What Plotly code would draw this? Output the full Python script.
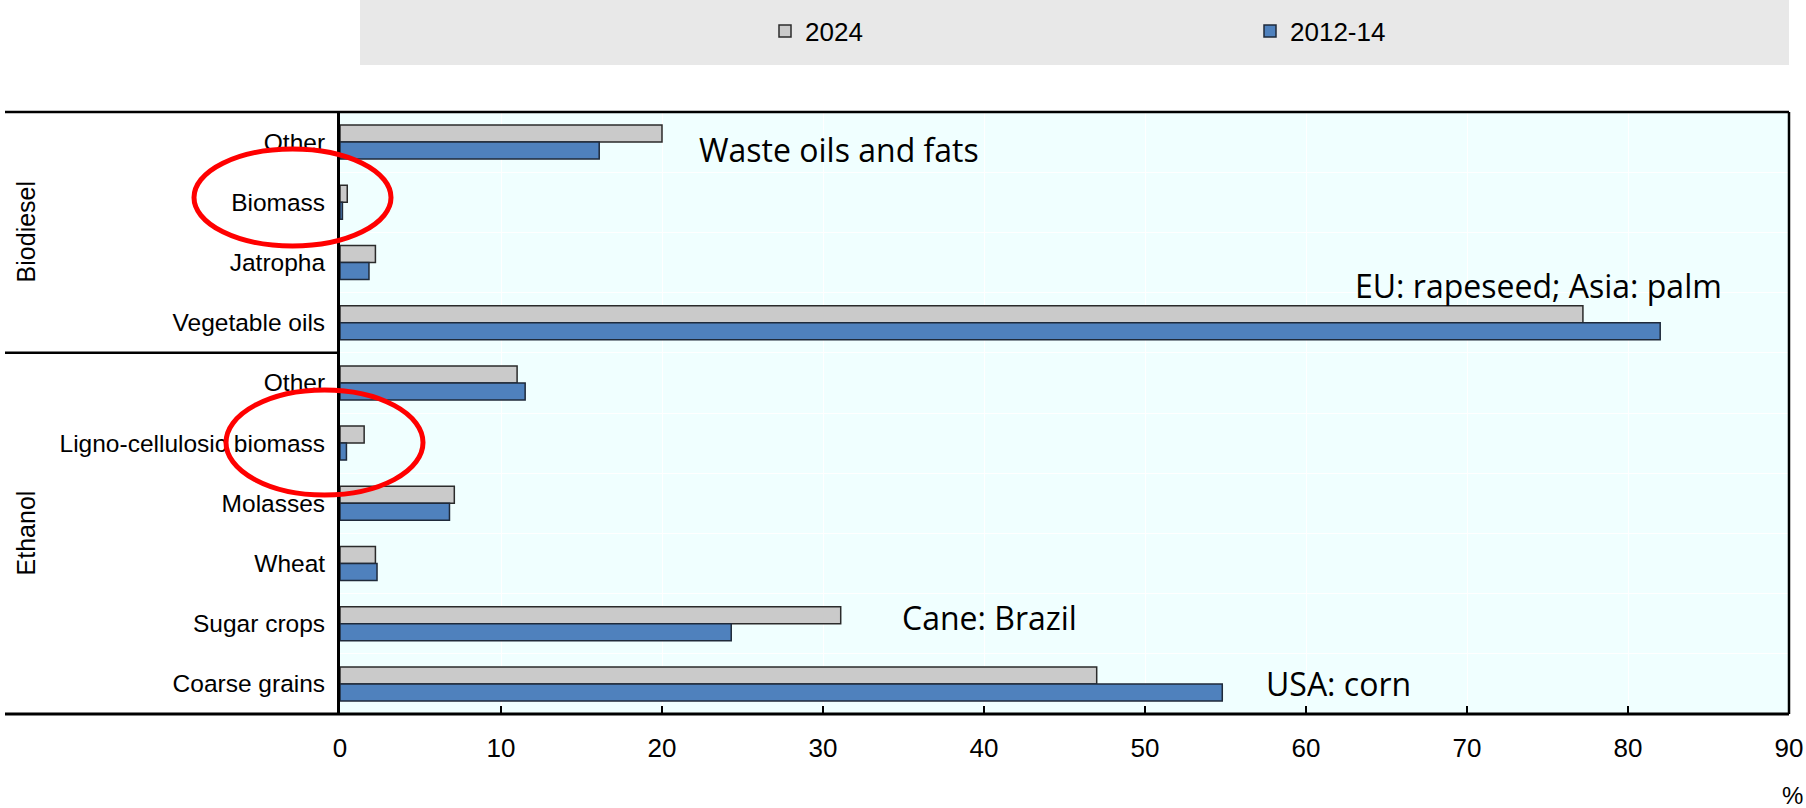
import plotly.graph_objects as go

# Feedstock shares in world biofuel production (%)
groups = ["Biodiesel", "Ethanol"]
group_sizes = [4, 6]
categories = [
    "Other", "Biomass", "Jatropha", "Vegetable oils",
    "Other", "Ligno-cellulosic biomass", "Molasses", "Wheat", "Sugar crops", "Coarse grains",
]
share_2024 = [20.0, 0.45, 2.2, 77.2, 11.0, 1.5, 7.1, 2.2, 31.1, 47.0]
share_2012_14 = [16.1, 0.15, 1.8, 82.0, 11.5, 0.4, 6.8, 2.3, 24.3, 54.8]
x_ticks = [0, 10, 20, 30, 40, 50, 60, 70, 80, 90]

# Text notes placed beside bars: (text, x value, category row)
notes = [
    ("Waste oils and fats", 22.2, 0.12),
    ("EU: rapeseed; Asia: palm", 62.9, 2.38),
    ("Cane: Brazil", 34.8, 7.9),
    ("USA: corn", 57.4, 9.0),
]

W, H = 1806, 808
ML, MR, MT, MB = 340, 17, 112, 94
PW, PH = W - ML - MR, H - MT - MB

LABEL_FONT = "Liberation Sans, Arial, sans-serif"
NOTE_FONT = "Open Sans, Noto Sans, sans-serif"


def px_x(px):
    return (px - ML) / PW


def px_y(py):
    return (H - MB - py) / PH


rows = list(range(len(categories)))

fig = go.Figure()
fig.add_trace(go.Bar(
    name="2024", y=rows, x=share_2024, orientation="h",
    marker=dict(color="#CACACA", line=dict(color="#2b2b2b", width=1.5)),
))
fig.add_trace(go.Bar(
    name="2012-14", y=rows, x=share_2012_14, orientation="h",
    marker=dict(color="#4F81BD", line=dict(color="#1f2a3a", width=1.5)),
))

shapes = []
# legend band
shapes.append(dict(type="rect", xref="paper", yref="paper", layer="below",
                   x0=px_x(360), x1=1.0, y0=px_y(65), y1=px_y(0),
                   fillcolor="#E8E8E8", line=dict(width=0)))
# outer frame lines
shapes.append(dict(type="line", xref="paper", yref="paper",
                   x0=px_x(5), x1=1.0, y0=1.0, y1=1.0,
                   line=dict(color="black", width=2.5)))
shapes.append(dict(type="line", xref="paper", yref="paper",
                   x0=px_x(5), x1=1.0, y0=0.0, y1=0.0,
                   line=dict(color="black", width=3)))
shapes.append(dict(type="line", xref="paper", yref="paper",
                   x0=1.0, x1=1.0, y0=0.0, y1=1.0,
                   line=dict(color="black", width=2.5)))
# divider between the two fuel groups
split = group_sizes[0] - 0.5
shapes.append(dict(type="line", xref="paper", yref="y",
                   x0=px_x(5), x1=0.0, y0=split, y1=split,
                   line=dict(color="black", width=2.5)))
# red highlight ellipses
shapes.append(dict(type="circle", xref="paper", yref="paper",
                   x0=px_x(194), x1=px_x(391), y0=px_y(246), y1=px_y(149),
                   line=dict(color="#FF0000", width=5)))
shapes.append(dict(type="circle", xref="paper", yref="paper",
                   x0=px_x(226), x1=px_x(423), y0=px_y(495), y1=px_y(390),
                   line=dict(color="#FF0000", width=5)))

annotations = []
start = 0
for g, n in zip(groups, group_sizes):
    annotations.append(dict(text=g, xref="paper", yref="y", x=px_x(26),
                            y=start + (n - 1) / 2, textangle=-90, showarrow=False,
                            xanchor="center", yanchor="middle",
                            font=dict(family=LABEL_FONT, size=25, color="black")))
    start += n
for text, xv, yv in notes:
    annotations.append(dict(text=text, xref="x", yref="y", x=xv, y=yv,
                            xanchor="left", yanchor="middle", showarrow=False,
                            font=dict(family=NOTE_FONT, size=32, color="black")))
annotations.append(dict(text="%", xref="paper", yref="paper", x=px_x(1805),
                        y=px_y(795), xanchor="right", yanchor="middle", showarrow=False,
                        font=dict(family=LABEL_FONT, size=24, color="black")))

fig.update_layout(
    width=W, height=H,
    margin=dict(l=ML, r=MR, t=MT, b=MB, pad=0, autoexpand=False),
    paper_bgcolor="white", plot_bgcolor="#F0FFFF",
    barmode="group", bargap=0.435, bargroupgap=0.0,
    showlegend=True,
    legend=dict(orientation="h", x=px_x(765), y=px_y(31), xanchor="left", yanchor="middle",
                bgcolor="rgba(0,0,0,0)", font=dict(family=LABEL_FONT, size=26, color="black"),
                entrywidth=440, entrywidthmode="pixels", traceorder="normal"),
    shapes=shapes, annotations=annotations,
    font=dict(family=LABEL_FONT, color="black"),
)
fig.update_xaxes(
    range=[0, 90], tickvals=x_ticks, ticks="inside", ticklen=8, tickwidth=2,
    tickcolor="black", showgrid=True, gridcolor="white", gridwidth=1,
    zeroline=False, showline=False, ticklabelstandoff=16, automargin=False,
    tickfont=dict(family=LABEL_FONT, size=26, color="black"),
)
fig.update_yaxes(
    range=[len(categories) - 0.5, -0.5], tickvals=rows, ticktext=categories,
    showgrid=False, zeroline=False, showline=True, linecolor="black", linewidth=3,
    ticks="", ticklabelstandoff=7, automargin=False,
    tickfont=dict(family=LABEL_FONT, size=24.5, color="black"),
    minor=dict(tickvals=[r + 0.5 for r in rows[:-1]], showgrid=True,
               gridcolor="white", gridwidth=1, ticks=""),
)

fig.write_html("out.html")
